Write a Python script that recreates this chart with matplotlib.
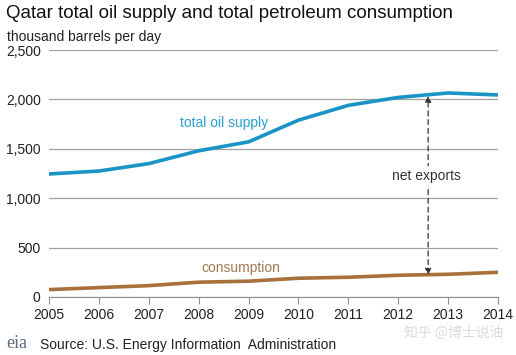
import matplotlib.pyplot as plt

years = [2005, 2006, 2007, 2008, 2009, 2010, 2011, 2012, 2013, 2014]
supply = [1245, 1275, 1350, 1480, 1570, 1790, 1940, 2020, 2065, 2045]
consumption = [75, 95, 115, 150, 160, 190, 200, 220, 230, 250]
yticks = [0, 500, 1000, 1500, 2000, 2500]
ytick_labels = ['0', '500', '1,000', '1,500', '2,000', '2,500']

blue = '#1a93c6'
brown = '#a8703a'

plt.rcParams['font.family'] = ['Liberation Sans', 'DejaVu Sans']

fig = plt.figure(figsize=(5.16, 3.55), dpi=100)
ax = fig.add_axes([49 / 516, 1 - 297 / 355, 449 / 516, 247 / 355])

ax.plot(years, supply, color=blue, lw=2.6, solid_capstyle='butt')
ax.plot(years, consumption, color=brown, lw=2.6, solid_capstyle='butt')

ax.set_xlim(2005, 2014)
ax.set_ylim(0, 2500)
ax.set_yticks(yticks)
ax.set_yticklabels(ytick_labels)
ax.set_xticks(years)
ax.grid(axis='y', color='#a0a0a0', lw=0.9)
ax.set_axisbelow(True)
for s in ['left', 'right', 'top']:
    ax.spines[s].set_visible(False)
ax.spines['bottom'].set_color('#909090')
ax.tick_params(axis='y', length=0, pad=6, labelsize=10, labelcolor='#222222')
ax.tick_params(axis='x', length=5, color='#909090', pad=3, labelsize=10, labelcolor='#222222')

# double-headed dashed arrow for net exports
ax.annotate('', xy=(2012.6, 2035), xytext=(2012.6, 225),
            arrowprops=dict(arrowstyle='<|-|>', linestyle=(0, (4, 3)), color='#333333',
                            lw=0.9, mutation_scale=9, shrinkA=0, shrinkB=0))
ax.text(2012.56, 1225, 'net exports', ha='center', va='center', fontsize=10,
        color='#333333', bbox=dict(facecolor='white', edgecolor='none', pad=2))
ax.text(2008.5, 1760, 'total oil supply', ha='center', va='center', fontsize=10, color='#2a9fd0')
ax.text(2008.85, 295, 'consumption', ha='center', va='center', fontsize=10, color='#a07850')

fig.text(0.012, 0.985, 'Qatar total oil supply and total petroleum consumption',
         ha='left', va='top', fontsize=13.5, color='#111111')
fig.text(0.014, 0.915, 'thousand barrels per day', ha='left', va='top', fontsize=10, color='#222222')
fig.text(0.012, 0.008, 'eia', ha='left', va='bottom', fontsize=13, family='Liberation Serif',
         color='#5a6a7a')
fig.text(0.077, 0.008, 'Source: U.S. Energy Information  Administration', ha='left', va='bottom',
         fontsize=10, color='#222222')
fig.text(0.975, 0.042, '知乎 @博士说油', ha='right', va='bottom', fontsize=10,
         color='#dadada', family=['Noto Sans CJK SC', 'DejaVu Sans'])

fig.savefig('out.png', dpi=100)
